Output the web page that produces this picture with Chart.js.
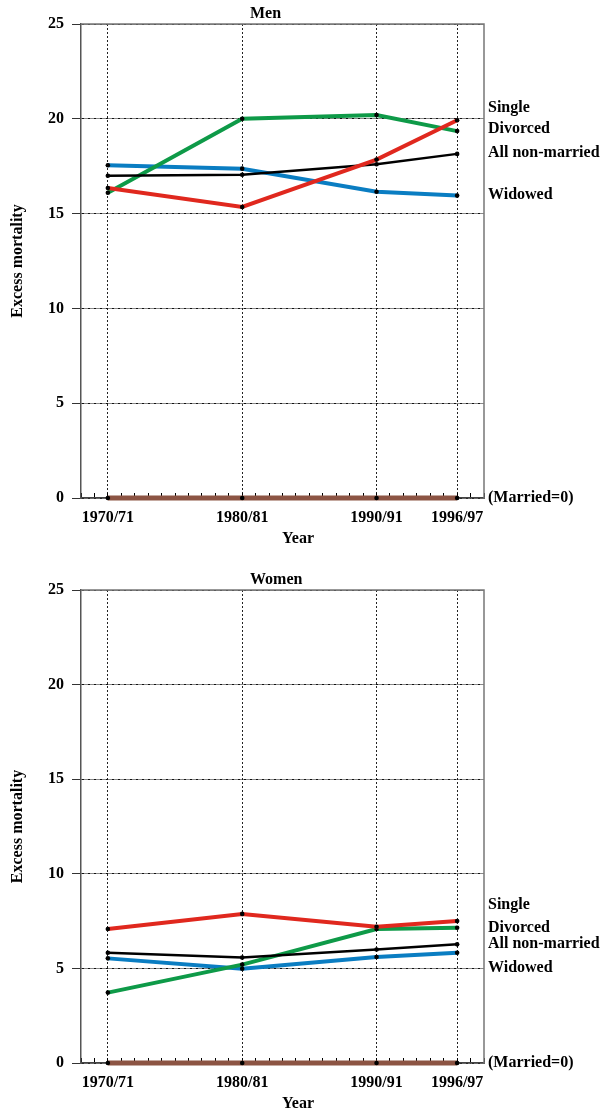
<!DOCTYPE html>
<html>
<head>
<meta charset="utf-8">
<script src="https://cdn.jsdelivr.net/npm/chart.js@4.4.1/dist/chart.umd.min.js"></script>
<style>
  body { margin: 0; background: #fff; }
  canvas { display: block; }
</style>
</head>
<body>
<canvas id="men" width="606" height="566"></canvas>
<canvas id="women" width="606" height="546"></canvas>
<script>
// census years (x) and excess mortality values
var years = [1970, 1980, 1990, 1996];

var menSingle   = [16.35, 15.35, 17.85, 19.92];
var menDivorced = [16.1, 20.0, 20.2, 19.35];
var menAll      = [17.0, 17.05, 17.6, 18.15];
var menWidowed  = [17.55, 17.37, 16.15, 15.95];

var womenSingle   = [7.08, 7.88, 7.2, 7.5];
var womenDivorced = [3.72, 5.2, 7.08, 7.15];
var womenAll      = [5.83, 5.57, 6.0, 6.27];
var womenWidowed  = [5.53, 4.98, 5.6, 5.83];

var married = [0, 0, 0, 0];

var seriesNames = ['Single', 'Divorced', 'All non-married', 'Widowed'];

var font = { family: '"Liberation Serif", "Times New Roman", serif', size: 16, weight: 'bold' };

function pts(vals) {
  return vals.map(function (v, i) { return { x: years[i], y: v }; });
}

function ds(vals, color, width) {
  return {
    data: pts(vals),
    borderColor: color,
    borderWidth: width,
    pointRadius: 2.3,
    pointBackgroundColor: '#000',
    pointBorderWidth: 0,
    tension: 0,
    clip: false
  };
}

var textPlugin = {
  id: 'sideText',
  beforeDatasetsDraw: function (chart) {
    var a = chart.chartArea, c = chart.ctx;
    c.save();
    c.strokeStyle = '#777';
    c.lineWidth = 1.5;
    c.beginPath();
    c.moveTo(a.left, a.top);
    c.lineTo(a.right, a.top);
    c.lineTo(a.right, a.bottom);
    c.stroke();
    c.restore();
  },
  afterDraw: function (chart, args, opts) {
    var c = chart.ctx, y = chart.scales.y, a = chart.chartArea;
    c.save();
    c.font = 'bold 16px "Liberation Serif"';
    c.fillStyle = '#000';
    c.textBaseline = 'middle';
    c.textAlign = 'left';
    c.fillText(opts.title, 250, 14);
    c.fillText('Year', 282, a.bottom + 41);
    for (var i = 0; i < seriesNames.length; i++) {
      c.fillText(seriesNames[i], a.right + 4, y.getPixelForValue(opts.at[i]));
    }
    c.fillText('(Married=0)', a.right + 4, y.getPixelForValue(0));
    c.restore();
  }
};

function makeChart(id, title, s, d, all, w, labelAt, xHeight) {
  return new Chart(document.getElementById(id), {
    type: 'line',
    data: {
      datasets: [
        ds(s, '#e0281e', 4),
        ds(all, '#000', 2.5),
        ds(d, '#0e9a48', 4),
        ds(w, '#0a7dc2', 4),
        ds(married, '#8c5443', 5)
      ]
    },
    plugins: [textPlugin],
    options: {
      responsive: false,
      animation: false,
      layout: { padding: { left: 0, top: 24, right: 122, bottom: 0 } },
      plugins: {
        legend: { display: false },
        tooltip: { enabled: false },
        sideText: { title: title, at: labelAt }
      },
      scales: {
        x: {
          type: 'linear',
          min: 1968,
          max: 1998,
          afterFit: function (sc) { sc.height = xHeight; },
          ticks: {
            stepSize: 1,
            autoSkip: false,
            maxRotation: 0,
            padding: 15,
            color: '#000',
            font: font,
            callback: function (v) {
              return years.indexOf(v) >= 0 ? v + '/' + String(v + 1).slice(2) : '';
            }
          },
          grid: {
            color: function (ctx) {
              return ctx.tick && years.indexOf(ctx.tick.value) >= 0 ? '#222' : 'rgba(0,0,0,0)';
            },
            tickColor: '#000',
            tickLength: -5,
            lineWidth: 1
          },
          border: { color: '#444', width: 1.5, dash: [2, 2] }
        },
        y: {
          min: 0,
          max: 25,
          afterFit: function (sc) { sc.width = 81; },
          ticks: { stepSize: 5, padding: 8, color: '#000', font: font },
          grid: { color: '#111', tickColor: '#333', tickLength: 9, lineWidth: 1 },
          border: { color: '#555', width: 1.5, dash: [3, 1, 1, 1] },
          title: {
            display: true,
            text: 'Excess mortality',
            color: '#000',
            font: font,
            padding: { top: 8, bottom: 0 }
          }
        }
      }
    }
  });
}

makeChart('men', 'Men', menSingle, menDivorced, menAll, menWidowed,
  [20.6, 19.45, 18.2, 16.0], 68);
makeChart('women', 'Women', womenSingle, womenDivorced, womenAll, womenWidowed,
  [8.35, 7.13, 6.29, 5.02], 49);
</script>
</body>
</html>
